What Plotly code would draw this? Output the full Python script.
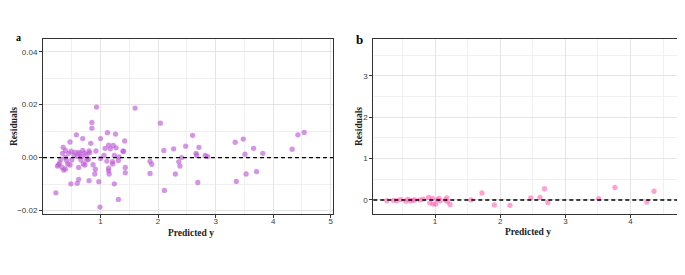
import plotly.graph_objects as go

# Panel a data
a_x = [0.224, 0.93, 1.60, 2.04, 0.85, 0.85, 0.99, 1.31, 2.11, 2.60, 3.34, 3.48, 3.66, 3.82, 4.33, 4.43, 4.54,
       3.51, 3.36, 3.53, 3.71, 2.10, 2.27, 2.48, 2.71, 2.66, 2.67, 2.82, 2.86, 2.41, 2.36, 2.38, 2.30, 2.69,
       1.86, 1.89, 1.86, 1.42, 1.39, 1.40, 1.43, 1.43, 1.26, 1.12, 1.00, 1.24, 0.97, 0.80, 0.62, 0.595, 0.485,
       0.58, 0.47, 0.69, 0.35, 1.14, 1.08, 1.22, 1.27, 1.17, 0.83, 0.92, 1.06, 1.00, 1.24, 1.32, 1.31, 1.11,
       1.21, 1.21, 1.14, 1.14, 1.15, 0.91, 0.90, 0.87, 0.79, 0.75, 0.81, 0.72, 0.69, 0.64, 0.62, 0.70, 0.73,
       0.66, 0.60, 0.555, 0.54, 0.50, 0.47, 0.43, 0.41, 0.39, 0.34, 0.31, 0.29, 0.27, 0.25, 0.33, 0.36, 0.39,
       0.445, 0.49, 0.39, 0.62, 0.67, 0.76, 0.80]
a_y = [-0.0133, 0.0191, 0.0187, 0.0130, 0.0133, 0.0111, -0.0187, -0.0158, -0.0124, 0.0084, 0.0058, 0.0070,
       0.0035, 0.0016, 0.0032, 0.0086, 0.0095, 0.0013, -0.0090, -0.0062, -0.0053, 0.0027, 0.0033, 0.0043,
       0.0039, 0.0016, 0.0009, 0.0008, 0.0004, 0.0000, -0.0016, -0.0032, -0.0062, -0.0094, -0.0014, -0.0025,
       -0.0060, 0.0063, 0.0024, 0.0024, -0.0037, -0.0057, 0.0089, 0.0094, 0.0072, -0.0099, -0.0091, -0.0087,
       -0.0082, -0.0097, -0.0099, 0.0086, 0.0059, 0.0072, 0.0039, 0.0047, 0.0035, 0.0046, 0.0037, 0.0033,
       0.0054, 0.0025, 0.0008, -0.0003, 0.0008, 0.0003, -0.0011, -0.0013, -0.0015, -0.0024, -0.0040, -0.0050,
       -0.0062, -0.0044, -0.0062, -0.0027, -0.0006, 0.0009, 0.0018, 0.0018, 0.0027, 0.0014, -0.0037, -0.0024,
       -0.0028, -0.0009, 0.0004, 0.0020, 0.0009, -0.0009, -0.0028, -0.0024, -0.0011, 0.0001, 0.0016, -0.0006,
       -0.0020, -0.0027, -0.0032, -0.0037, -0.0047, -0.0043, 0.0016, 0.0024, 0.0027, 0.0020, 0.0004, -0.0009,
       0.0025]

# Panel b data
b_x = [0.26, 0.36, 0.41, 0.47, 0.55, 0.58, 0.62, 0.66, 0.69, 0.77, 0.82, 0.90, 0.92, 0.96, 0.97, 1.01, 1.03,
       1.06, 1.08, 1.16, 1.18, 1.19, 1.23, 1.55, 1.72, 1.91, 2.15, 2.47, 2.61, 2.68, 2.73, 3.51, 3.76, 4.25, 4.36]
b_y = [-0.02, -0.01, -0.02, 0.01, -0.03, 0.01, -0.02, -0.01, 0.0, 0.0, 0.02, 0.06, -0.07, 0.04, -0.10, -0.10,
       0.0, 0.04, -0.02, 0.0, 0.05, -0.04, -0.11, 0.0, 0.17, -0.12, -0.13, 0.05, 0.06, 0.27, -0.06, 0.03, 0.30,
       -0.05, 0.21]

a_yticks = [-0.02, 0.0, 0.02, 0.04]
a_xticks = [1, 2, 3, 4, 5]
b_yticks = [0, 1, 2, 3]
b_xticks = [1, 2, 3, 4]

OFF = 8  # page body margin
W, H = 685 - OFF, 275 - OFF
def px(x): return (x - OFF) / W
def py(y): return 1 - (y - OFF) / H

fig = go.Figure()
fig.add_trace(go.Scatter(x=a_x, y=a_y, mode="markers", xaxis="x", yaxis="y",
                         marker=dict(size=5.3, color="rgba(186,85,211,0.62)", line=dict(width=0)),
                         showlegend=False))
fig.add_trace(go.Scatter(x=b_x, y=b_y, mode="markers", xaxis="x2", yaxis="y2",
                         marker=dict(size=5.3, color="rgba(255,105,180,0.62)", line=dict(width=0)),
                         showlegend=False))

tickfont = dict(family="Liberation Sans, Arial", size=8, color="#3a3a3a")
common = dict(showgrid=True, gridcolor="#e4e4e4", gridwidth=1, zeroline=False,
              showline=True, linecolor="#333333", linewidth=1, mirror=True,
              ticks="outside", ticklen=3, tickcolor="#333333", tickwidth=1,
              tickfont=tickfont, automargin=False)
minorgrid = dict(showgrid=True, gridcolor="#f0f0f0", gridwidth=0.6, ticks="")

fig.update_layout(
    width=W, height=H, margin=dict(l=0, r=0, t=0, b=0),
    paper_bgcolor="white", plot_bgcolor="white",
    xaxis=dict(domain=[px(43), px(333)], range=[0.0, 5.04], tickvals=a_xticks, ticklabelstandoff=-4,
               minor=dict(dtick=0.5, tick0=0.5, **minorgrid), anchor="y", **common),
    yaxis=dict(domain=[py(214), py(39)], range=[-0.0213, 0.0448], tickvals=a_yticks, tickformat=".2f",
               minor=dict(dtick=0.01, tick0=0.01, **minorgrid), anchor="x", **common),
    xaxis2=dict(domain=[px(373.3), px(680.7)], range=[0.052, 4.77], tickvals=b_xticks, ticklabelstandoff=-4,
                minor=dict(dtick=0.5, tick0=0.5, **minorgrid), anchor="y2", **common),
    yaxis2=dict(domain=[py(214), py(39)], range=[-0.34, 3.89], tickvals=b_yticks,
                minor=dict(dtick=0.5, tick0=0.5, **minorgrid), anchor="x2", **common),
)

for xr, yr in [("x", "y"), ("x2", "y2")]:
    fig.add_shape(type="line", xref=f"{xr} domain", yref=yr, x0=0, x1=1, y0=0, y1=0,
                  line=dict(color="black", width=1.4, dash="4px,3px"))

titlefont = dict(family="Liberation Serif, Times New Roman", size=9.5, color="#222222")
anns = [
    dict(x=px(14), y=py(127), text="<b>Residuals</b>", textangle=-90, font=titlefont),
    dict(x=px(191), y=py(232.5), text="<b>Predicted y</b>", font=titlefont),
    dict(x=px(359), y=py(127), text="<b>Residuals</b>", textangle=-90, font=titlefont),
    dict(x=px(528), y=py(231.5), text="<b>Predicted y</b>", font=titlefont),
    dict(x=px(19), y=py(37), text="<b>a</b>",
         font=dict(family="Liberation Serif, Times New Roman", size=10, color="black")),
    dict(x=px(359), y=py(39), text="<b>b</b>",
         font=dict(family="Liberation Serif, Times New Roman", size=13, color="black")),
]
for a in anns:
    fig.add_annotation(xref="paper", yref="paper", showarrow=False, xanchor="center", yanchor="middle", **a)

fig.write_html("out.html")
